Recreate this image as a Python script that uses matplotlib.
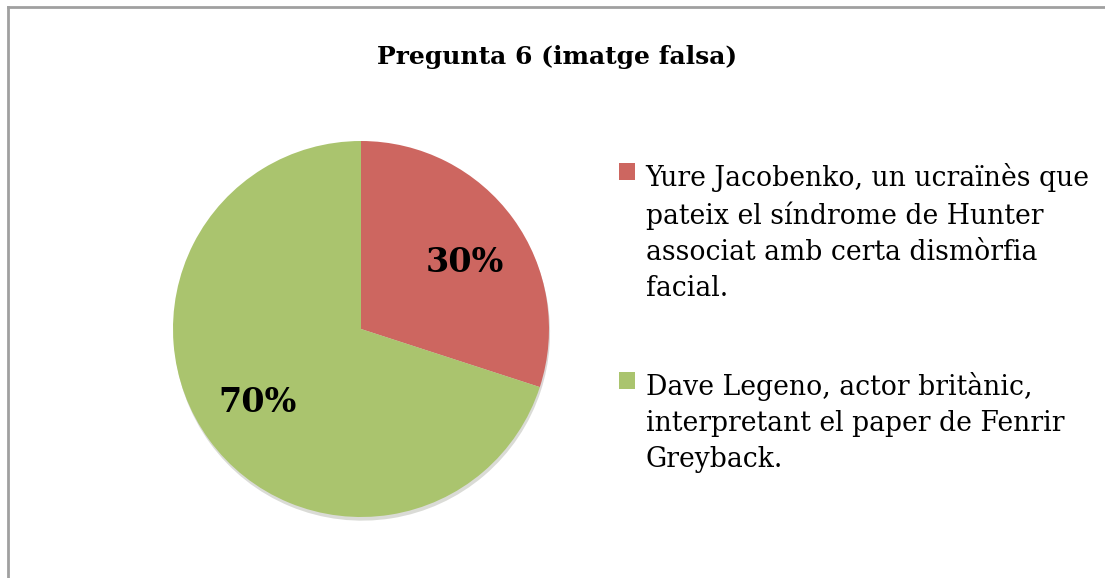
import numpy as np
import matplotlib.pyplot as plt
from matplotlib.patches import Shadow

title = 'Pregunta 6 (imatge falsa)'
labels = ['Yure Jacobenko, un ucraïnès que\npateix el síndrome de Hunter\nassociat amb certa dismòrfia\nfacial.',
          'Dave Legeno, actor britànic,\ninterpretant el paper de Fenrir\nGreyback.']
values = [30, 70]
colors = ['#CD6660', '#AAC46E']

W, H = 1105, 578
fig = plt.figure(figsize=(W / 100, H / 100), dpi=100)
fig.patch.set_facecolor('white')

# chart border (only left and top edges visible in the crop)
fig.add_artist(plt.Line2D([7.5 / W, 7.5 / W], [0, 1 - 6.5 / H], color='#a0a0a0', lw=2))
fig.add_artist(plt.Line2D([7.5 / W, 1], [1 - 6.5 / H, 1 - 6.5 / H], color='#a0a0a0', lw=2))

cx, cy, r = 361, 329, 188
pad = 1.05
ax = fig.add_axes([(cx - r * pad) / W, (H - cy - r * pad) / H, 2 * pad * r / W, 2 * pad * r / H])
wedges, texts = ax.pie(values, colors=colors, startangle=90, counterclock=False,
                       radius=1, wedgeprops=dict(linewidth=0))
for w in wedges:
    s = Shadow(w, 0.004, -0.014, alpha=0.18)
    s.set_zorder(w.get_zorder() - 1)
    ax.add_patch(s)
ax.set_xlim(-pad, pad)
ax.set_ylim(-pad, pad)
ax.set_aspect('equal')
ax.axis('off')

# percentage labels
for w, v in zip(wedges, values):
    ang = np.deg2rad((w.theta1 + w.theta2) / 2 - 2)
    ax.text(0.665 * np.cos(ang), 0.665 * np.sin(ang), f'{v}%', ha='center', va='center_baseline',
            fontsize=24, fontweight='bold', family='DejaVu Serif', color='black')

fig.text(557 / W, 1 - 57 / H, title, ha='center', va='center',
         fontsize=18, fontweight='bold', family='DejaVu Serif')

leg = fig.legend(wedges, labels, loc='upper left', bbox_to_anchor=(619 / W, 1 - 163 / H),
                 frameon=False, prop=dict(family='DejaVu Serif', size=19.2),
                 handlelength=0.6, handleheight=0.6, handletextpad=0.4,
                 labelspacing=2.6, borderaxespad=0, borderpad=0)
for t in leg.get_texts():
    t.set_linespacing(1.43)
# put the square beside the first line of each entry
for col in leg._legend_handle_box.get_children():
    for row in col.get_children():
        row.align = 'top'

fig.savefig('out.png', dpi=100)
